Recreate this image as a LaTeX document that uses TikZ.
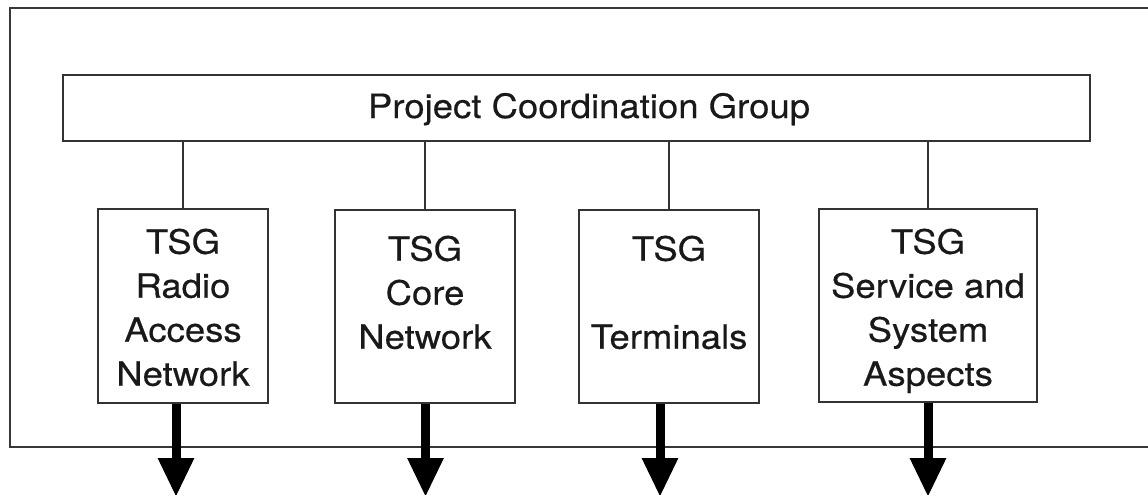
\documentclass[tikz,border=0pt]{standalone}
\usepackage{fontspec}
\setmainfont{TeX Gyre Heros}[FakeStretch=1.09,FakeBold=0.4]
\usetikzlibrary{arrows.meta}
\begin{document}
\begin{tikzpicture}[x=1pt,y=-1pt,
  frameline/.style={draw=black!78,line width=2.8pt},
  tsgbox/.style={draw=black!80,line width=2.5pt,rectangle,inner sep=0pt,fill=white},
  link/.style={draw=black!80,line width=2.3pt},
  boxtext/.style={inner sep=0pt,align=center,text=black!90,font=\fontsize{33.5}{44}\selectfont},
  bigarrow/.style={draw=black,line width=9pt,-{Triangle[width=34pt,length=39pt]}}]
\useasboundingbox (0,0) rectangle (1148,495);
\clip (0,0) rectangle (1148,495);
% outer frame (its right side runs past the page edge)
\draw[frameline] (10,8) rectangle (1170,447);
% coordination group
\node[tsgbox,minimum width=1027pt,minimum height=66pt] (pcg) at (576.5,108) {};
\node[boxtext,anchor=base] (pcgtext) at (589,118) {Project Coordination Group};
% technical specification groups
\node[tsgbox,minimum width=170pt,minimum height=194pt] (b1) at (183,306) {};
\node[tsgbox,minimum width=180pt,minimum height=193pt] (b2) at (425,306.5) {};
\node[tsgbox,minimum width=180pt,minimum height=193pt] (b3) at (669,306.5) {};
\node[tsgbox,minimum width=218pt,minimum height=193pt] (b4) at (928,305.5) {};
\node[boxtext,anchor=north] (t1) at (183,228.5) {TSG\\Radio\\Access\\Network};
\node[boxtext,anchor=north] (t2) at (425,235.5) {TSG\\Core\\Network};
\node[boxtext,anchor=north] (t3) at (669,235.5) {TSG\\[44pt]Terminals};
\node[boxtext,anchor=north] (t4) at (928,228.5) {TSG\\Service and\\System\\Aspects};
% links to the coordination group
\foreach \b in {b1,b2,b3,b4}
  \draw[link] (pcg.south -| \b.north) -- (\b.north);
% outputs
\coordinate (o1) at (176,497);
\coordinate (o2) at (425.5,497);
\coordinate (o3) at (660,497);
\coordinate (o4) at (928,497);
\draw[bigarrow] (o1 |- b1.south) -- (o1);
\draw[bigarrow] (o2 |- b2.south) -- (o2);
\draw[bigarrow] (o3 |- b3.south) -- (o3);
\draw[bigarrow] (o4 |- b4.south) -- (o4);
\end{tikzpicture}
\end{document}
